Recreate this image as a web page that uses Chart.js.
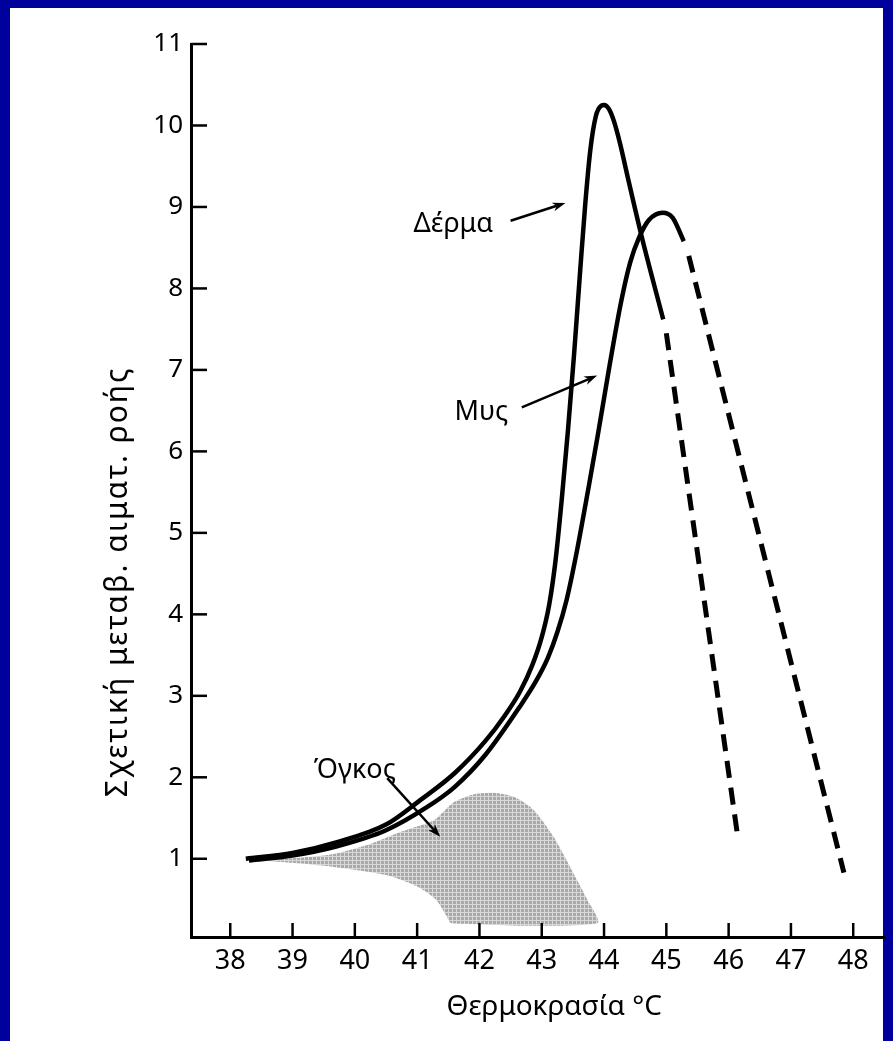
<!DOCTYPE html>
<html>
<head>
<meta charset="utf-8">
<title>Σχετική μεταβολή αιματικής ροής</title>
<script src="https://cdn.jsdelivr.net/npm/chart.js@4.4.1/dist/chart.umd.min.js"></script>
<style>
  html, body { margin: 0; padding: 0; background: #00009c; overflow: hidden; }
  #sheet { position: absolute; left: 10px; top: 8px; width: 873px; height: 1033px; background: #fff; }
  #wrap { position: absolute; left: 0; top: 0; width: 893px; height: 1041px; }
</style>
</head>
<body>
<div id="sheet"></div>
<div id="wrap"><canvas id="flowChart" width="893" height="1041"></canvas></div>
<script>
// Axis ticks
const xTicks = [38, 39, 40, 41, 42, 43, 44, 45, 46, 47, 48];
const yTicks = [1, 2, 3, 4, 5, 6, 7, 8, 9, 10, 11];

// Δέρμα (skin) - solid part, then dashed part
const dermaTemp = [38.25, 39.0, 39.7, 40.5, 41.05, 41.6, 42.1, 42.4, 42.65, 42.85, 43.0, 43.12, 43.22, 43.32, 43.42, 43.52, 43.62, 43.7, 43.78, 43.87, 43.95, 44.0, 44.08, 44.16, 44.25, 44.4, 44.6, 44.95];
const dermaFlow = [1.0, 1.07, 1.2, 1.42, 1.72, 2.05, 2.45, 2.75, 3.05, 3.38, 3.72, 4.12, 4.65, 5.4, 6.25, 7.2, 8.25, 9.05, 9.7, 10.12, 10.24, 10.25, 10.2, 10.05, 9.8, 9.3, 8.65, 7.62];
const dermaDashTemp = [45.0, 46.15];
const dermaDashFlow = [7.45, 1.25];

// Μυς (muscle)
const mysTemp = [38.3, 39.0, 39.7, 40.5, 41.15, 41.6, 42.1, 42.65, 42.9, 43.1, 43.25, 43.4, 43.55, 43.75, 43.9, 44.07, 44.27, 44.42, 44.56, 44.72, 44.94, 45.1, 45.28];
const mysFlow = [0.98, 1.04, 1.15, 1.35, 1.63, 1.88, 2.28, 2.87, 3.17, 3.47, 3.78, 4.18, 4.72, 5.55, 6.2, 6.97, 7.82, 8.32, 8.62, 8.84, 8.93, 8.87, 8.58];
const mysDashTemp = [45.36, 47.85];
const mysDashFlow = [8.4, 0.83];

// Όγκος (tumour) - outline of the shaded area, clockwise
const ogkosTemp = [38.5, 39.2, 39.66, 40.2, 40.73, 41.26, 41.45, 41.6, 41.9, 42.23, 42.55, 42.87, 43.19, 43.51, 43.73, 43.89, 41.55, 41.47, 41.3, 41.0, 40.5, 39.66, 39.0, 38.5];
const ogkosFlow = [0.98, 1.02, 1.06, 1.17, 1.33, 1.47, 1.6, 1.7, 1.79, 1.81, 1.76, 1.6, 1.27, 0.82, 0.5, 0.21, 0.21, 0.3, 0.5, 0.66, 0.8, 0.9, 0.95, 0.98];

// Labels with arrows (data coordinates)
const labelNames = ['Δέρμα', 'Μυς', 'Όγκος'];
const labelAt = [[41.58, 8.79], [42.03, 6.48], [40.0, 2.09]];
const arrowFrom = [[42.5, 8.83], [42.68, 6.54], [40.52, 1.99]];
const arrowTo = [[43.38, 9.05], [43.89, 6.93], [41.37, 1.27]];

const FONT = '"Noto Sans", "DejaVu Sans", sans-serif';

function pts(xs, ys) {
    return xs.map((x, i) => ({ x: x, y: ys[i] }));
}

// grey cross-hatch like the scanned screen tone
function hatch() {
    const c = document.createElement('canvas');
    c.width = 4; c.height = 4;
    const g = c.getContext('2d');
    g.fillStyle = '#a9a9a9';
    g.fillRect(0, 0, 4, 4);
    g.fillStyle = '#d8d8d8';
    g.fillRect(0, 0, 4, 1);
    g.fillRect(0, 0, 1, 4);
    return g.createPattern(c, 'repeat');
}

function arrow(ctx, x0, y0, x1, y1) {
    const a = Math.atan2(y1 - y0, x1 - x0);
    const len = 13, half = 4.5;
    ctx.beginPath();
    ctx.moveTo(x0, y0);
    ctx.lineTo(x1 - Math.cos(a) * len * 0.7, y1 - Math.sin(a) * len * 0.7);
    ctx.stroke();
    ctx.beginPath();
    ctx.moveTo(x1, y1);
    ctx.lineTo(x1 - Math.cos(a) * len - Math.sin(a) * half, y1 - Math.sin(a) * len + Math.cos(a) * half);
    ctx.lineTo(x1 - Math.cos(a) * len * 0.7, y1 - Math.sin(a) * len * 0.7);
    ctx.lineTo(x1 - Math.cos(a) * len + Math.sin(a) * half, y1 - Math.sin(a) * len - Math.cos(a) * half);
    ctx.closePath();
    ctx.fill();
}

// inside tick marks, titles and the labelled arrows
const decor = {
    id: 'decor',
    afterDraw(chart) {
        const { ctx, scales: { x, y } } = chart;
        ctx.save();
        ctx.strokeStyle = '#000';
        ctx.fillStyle = '#000';
        ctx.lineWidth = 2.5;

        yTicks.forEach(v => {
            const py = y.getPixelForValue(v);
            ctx.beginPath();
            ctx.moveTo(x.left, py);
            ctx.lineTo(x.left + 16, py);
            ctx.stroke();
        });
        xTicks.forEach(v => {
            const px = x.getPixelForValue(v);
            ctx.beginPath();
            ctx.moveTo(px, y.bottom);
            ctx.lineTo(px, y.bottom - 14);
            ctx.stroke();
        });

        // labels + arrows
        ctx.font = '27px ' + FONT;
        ctx.textAlign = 'center';
        ctx.textBaseline = 'middle';
        labelNames.forEach((name, i) => {
            ctx.fillText(name, x.getPixelForValue(labelAt[i][0]), y.getPixelForValue(labelAt[i][1]));
            ctx.lineWidth = 2.5;
            arrow(ctx,
                x.getPixelForValue(arrowFrom[i][0]), y.getPixelForValue(arrowFrom[i][1]),
                x.getPixelForValue(arrowTo[i][0]), y.getPixelForValue(arrowTo[i][1]));
        });

        // x title
        ctx.font = '28px ' + FONT;
        ctx.fillText('Θερμοκρασία °C', x.getPixelForValue(43.2), y.bottom + 70);

        // y title
        ctx.save();
        ctx.translate(118, y.getPixelForValue(4.4));
        ctx.rotate(-Math.PI / 2);
        ctx.font = '30px ' + FONT;
        ctx.letterSpacing = '2px';
        ctx.fillText('Σχετική μεταβ. αιματ. ροής', 0, 0);
        ctx.restore();

        ctx.restore();
    }
};

const curve = {
    borderColor: '#000',
    borderWidth: 4.5,
    pointRadius: 0,
    fill: false,
    cubicInterpolationMode: 'monotone'
};
const dashed = {
    borderColor: '#000',
    borderWidth: 5,
    borderDash: [17, 10],
    borderCapStyle: 'butt',
    pointRadius: 0,
    fill: false,
    tension: 0
};

new Chart(document.getElementById('flowChart'), {
    type: 'line',
    data: {
        datasets: [
            Object.assign({ label: 'Δέρμα', data: pts(dermaTemp, dermaFlow), order: 1 }, curve),
            Object.assign({ label: 'Δέρμα (διακεκομμένη)', data: pts(dermaDashTemp, dermaDashFlow), order: 1 }, dashed),
            Object.assign({ label: 'Μυς', data: pts(mysTemp, mysFlow), order: 1 }, curve),
            Object.assign({ label: 'Μυς (διακεκομμένη)', data: pts(mysDashTemp, mysDashFlow), order: 1 }, dashed),
            {
                label: 'Όγκος',
                data: pts(ogkosTemp, ogkosFlow),
                order: 5,
                borderWidth: 0,
                borderColor: 'rgba(0,0,0,0)',
                backgroundColor: hatch(),
                pointRadius: 0,
                fill: 'shape',
                tension: 0.25
            }
        ]
    },
    options: {
        responsive: false,
        animation: false,
        devicePixelRatio: 1,
        events: [],
        layout: { padding: { top: 44, right: 8, left: 0, bottom: 0 } },
        plugins: {
            legend: { display: false },
            tooltip: { enabled: false }
        },
        scales: {
            x: {
                type: 'linear',
                min: 37.37,
                max: 48.51,
                afterBuildTicks: s => { s.ticks = xTicks.map(v => ({ value: v })); },
                afterFit: s => { s.height = 104; },
                grid: { display: true, drawOnChartArea: false, drawTicks: false },
                border: { display: true, color: '#000', width: 3 },
                ticks: {
                    color: '#000',
                    padding: 8,
                    maxRotation: 0,
                    autoSkip: false,
                    font: { family: FONT, size: 27 }
                }
            },
            y: {
                type: 'linear',
                min: 0.04,
                max: 11,
                afterBuildTicks: s => { s.ticks = yTicks.map(v => ({ value: v })); },
                afterFit: s => { s.width = 191; },
                grid: { display: true, drawOnChartArea: false, drawTicks: false },
                border: { display: true, color: '#000', width: 3 },
                ticks: {
                    color: '#000',
                    padding: 8,
                    autoSkip: false,
                    font: { family: FONT, size: 26 }
                }
            }
        }
    },
    plugins: [decor]
});
</script>
</body>
</html>
